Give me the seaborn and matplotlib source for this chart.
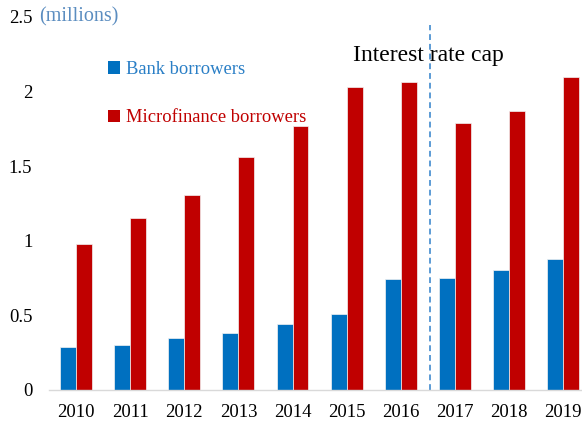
import matplotlib
matplotlib.use("Agg")
import matplotlib.pyplot as plt
import matplotlib.patches as mpatches
import seaborn as sns
import pandas as pd

# Borrower counts in millions
years = ["2010", "2011", "2012", "2013", "2014", "2015", "2016", "2017", "2018", "2019"]
bank_borrowers = [0.29, 0.30, 0.35, 0.38, 0.44, 0.51, 0.745, 0.75, 0.805, 0.875]
microfinance_borrowers = [0.98, 1.15, 1.31, 1.56, 1.77, 2.03, 2.065, 1.79, 1.87, 2.10]
series_names = ["Bank borrowers", "Microfinance borrowers"]
y_ticks = [0, 0.5, 1, 1.5, 2, 2.5]
y_tick_labels = ["0", "0.5", "1", "1.5", "2", "2.5"]
cap_position = 6.55  # between 2016 and 2017

bar_colors = ["#0070C0", "#C00000"]
text_colors = ["#2A7FC6", "#C00000"]

df = pd.DataFrame({
    "year": years * 2,
    "series": [series_names[0]] * len(years) + [series_names[1]] * len(years),
    "value": bank_borrowers + microfinance_borrowers,
})

sns.set_theme(style="white")
plt.rcParams["font.family"] = ["Liberation Serif", "DejaVu Serif"]

fig = plt.figure(figsize=(5.82, 4.24), dpi=100)
ax = fig.add_axes([49 / 582, 1 - 390 / 424, 1 - 49 / 582, (390 - 17) / 424])

sns.barplot(data=df, x="year", y="value", hue="series", palette=bar_colors,
            saturation=1, width=0.59, edgecolor="#F2F2F2", linewidth=0.5,
            ax=ax, legend=False)

ax.set_xlim(-0.5, 9.35)
ax.set_ylim(0, 2.5)
ax.set_yticks(y_ticks)
ax.set_yticklabels(y_tick_labels)
ax.set_xlabel("")
ax.set_ylabel("")
ax.tick_params(axis="both", length=0, labelsize=13.5, colors="#000000")
ax.tick_params(axis="y", pad=12)
ax.tick_params(axis="x", pad=10)
for side in ["top", "right", "left"]:
    ax.spines[side].set_visible(False)
ax.spines["bottom"].set_color("#D9D9D9")
ax.spines["bottom"].set_linewidth(1.0)
ax.grid(False)

# Policy change marker
ax.axvline(cap_position, ymin=0, ymax=2.445 / 2.5, color="#5B9BD5",
           linestyle=(0, (3, 2)), linewidth=1.4)
fig.text(353 / 582, 1 - 55 / 424, "Interest rate cap", fontsize=17,
         color="#000000", ha="left", va="center")

# Unit label
fig.text(39 / 582, 1 - 16.5 / 424, "(millions)", fontsize=14.5,
         color="#5B8DC0", ha="left", va="center")

# Legend
handles = [mpatches.Patch(facecolor=c, edgecolor="none") for c in bar_colors]
leg = fig.legend(handles, series_names, loc="upper left",
                 bbox_to_anchor=(108 / 582, 1 - 61 / 424),
                 bbox_transform=fig.transFigure, frameon=False,
                 fontsize=13.3, handlelength=0.65, handleheight=0.65,
                 handletextpad=0.3, labelspacing=1.7, borderpad=0,
                 borderaxespad=0)
for txt, col in zip(leg.get_texts(), text_colors):
    txt.set_color(col)

fig.savefig("out.png", dpi=100)
